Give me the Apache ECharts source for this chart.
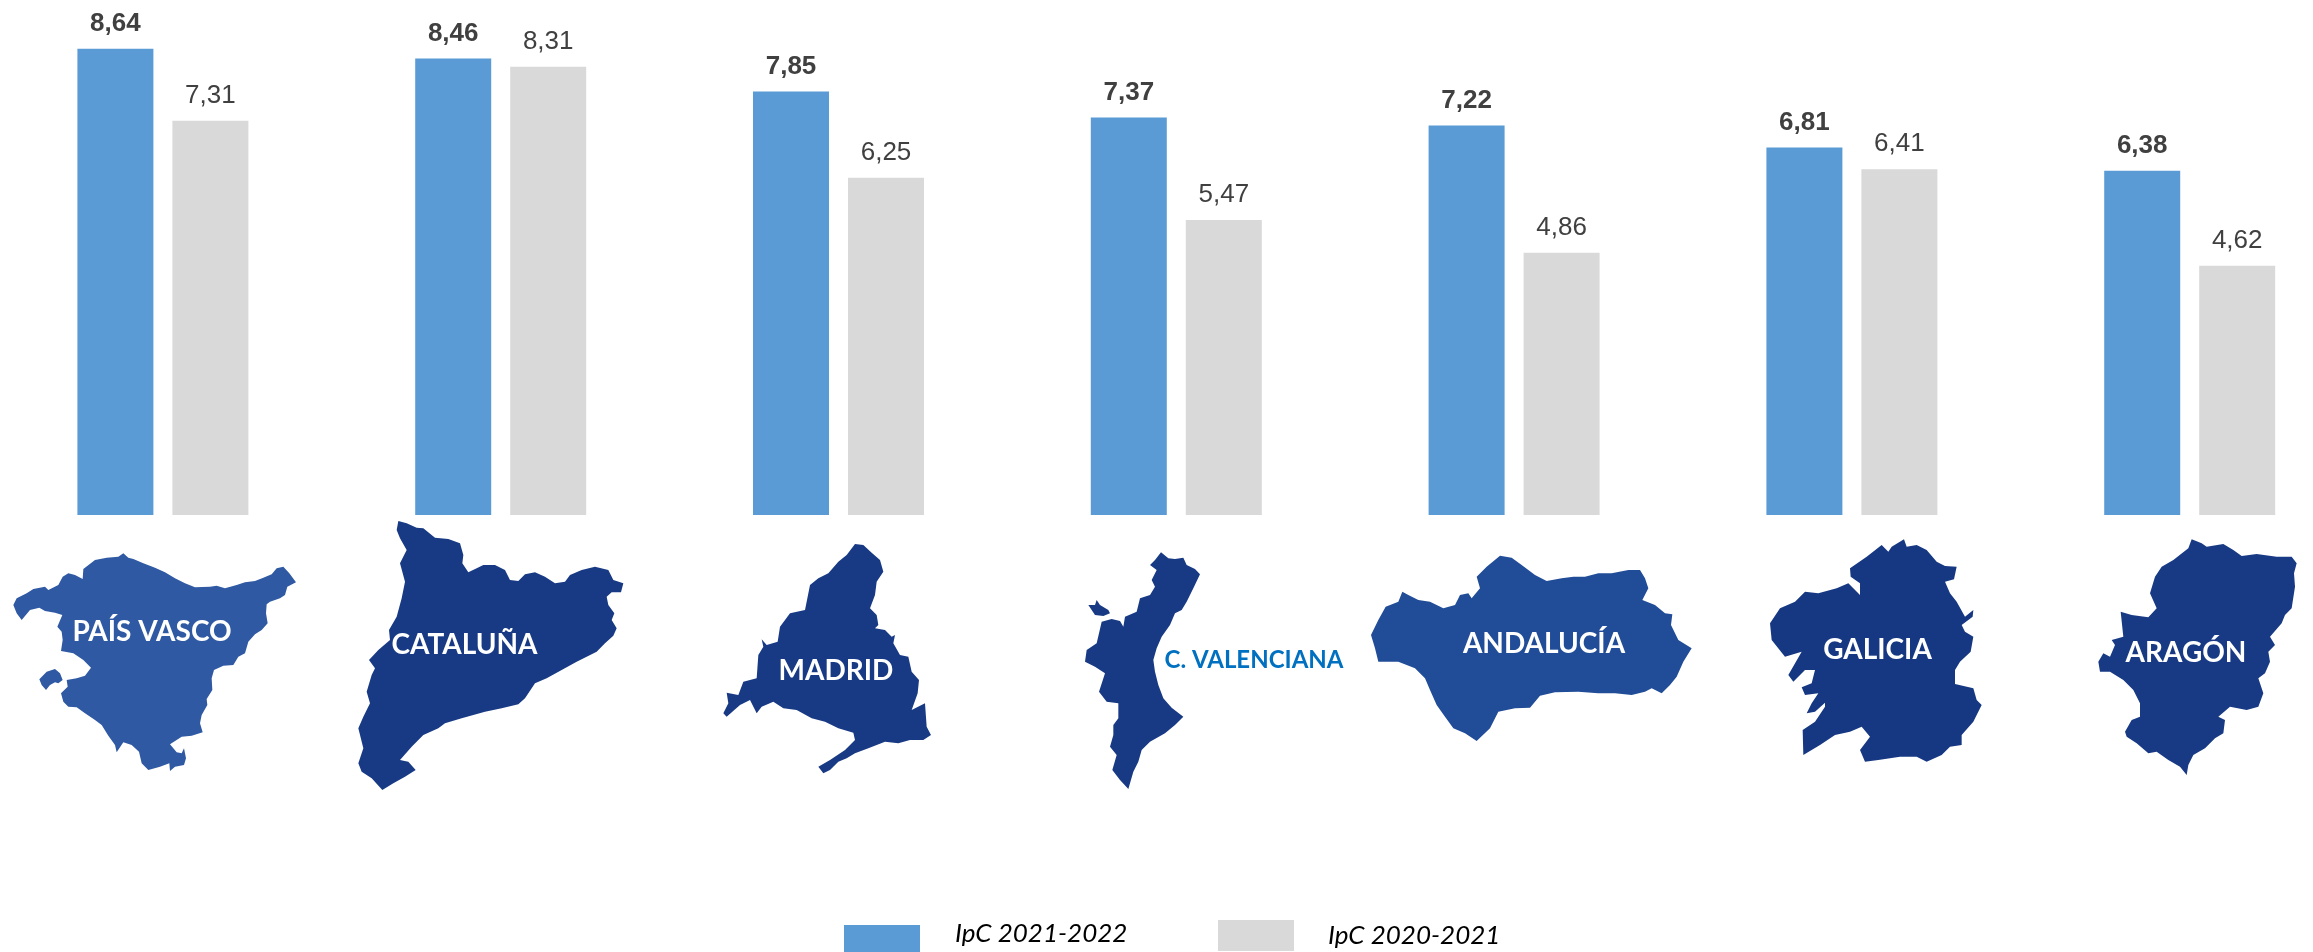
<!DOCTYPE html>
<html>
<head>
<meta charset="utf-8">
<style>html,body{margin:0;padding:0;background:#fff;overflow:hidden}#c{width:2313px;height:952px}</style>
<script src="https://cdn.jsdelivr.net/npm/echarts@6/dist/echarts.min.js"></script>
</head>
<body>
<div id="c"></div>
<script>
var categories = ['PAÍS VASCO','CATALUÑA','MADRID','C. VALENCIANA','ANDALUCÍA','GALICIA','ARAGÓN'];
var ipc2122 = [8.64,8.46,7.85,7.37,7.22,6.81,6.38];
var ipc2021 = [7.31,8.31,6.25,5.47,4.86,6.41,4.62];
var seriesNames = ['IpC 2021-2022','IpC 2020-2021'];

// Decorative region silhouettes (crop px at 3x)
var paisVasco = [[370,25],[385,38],[400,42],[430,55],[465,68],[495,82],[525,100],[555,115],[585,127],[630,125],[650,122],[675,130],[710,120],[735,112],[765,108],[790,98],[815,88],[830,70],[850,65],[868,85],[888,112],[862,125],[855,150],[840,160],[810,170],[800,178],[798,205],[803,235],[785,255],[765,268],[745,290],[735,325],[715,335],[700,360],[670,362],[642,375],[635,400],[637,435],[620,462],[622,480],[605,510],[600,535],[608,562],[575,572],[545,575],[510,598],[530,622],[545,625],[552,610],[558,640],[552,660],[525,665],[510,678],[508,655],[480,665],[445,675],[425,655],[417,620],[395,600],[370,592],[350,622],[345,600],[325,572],[305,540],[285,525],[255,505],[230,487],[205,485],[190,470],[183,445],[203,425],[200,405],[230,400],[255,392],[273,368],[250,345],[220,325],[183,318],[188,285],[185,260],[172,245],[187,210],[165,203],[135,198],[118,188],[90,195],[65,225],[50,205],[40,180],[50,160],[80,145],[100,132],[135,125],[145,135],[175,120],[188,95],[205,85],[225,90],[248,102],[250,72],[285,45],[320,38],[355,35]];
var paisVascoIsle = [[118,403],[140,380],[165,372],[180,385],[188,405],[175,415],[165,412],[150,420],[138,435],[125,420]];
var cataluna = [[160,18],[185,25],[215,38],[235,40],[270,68],[310,72],[345,85],[355,120],[352,145],[370,172],[395,160],[415,150],[450,150],[480,165],[495,195],[520,198],[540,178],[570,172],[600,185],[630,205],[660,200],[675,180],[710,165],[750,155],[790,165],[805,195],[835,205],[828,232],[800,232],[785,245],[790,270],[808,295],[800,315],[815,340],[805,362],[780,385],[755,410],[695,440],[650,465],[605,490],[570,505],[540,550],[520,568],[470,580],[420,590],[350,610],[300,625],[280,640],[235,660],[200,695],[165,735],[190,740],[212,765],[180,785],[145,805],[112,825],[80,790],[50,770],[40,745],[55,700],[40,640],[55,605],[75,565],[65,530],[80,480],[90,460],[72,435],[100,405],[135,375],[132,345],[155,305],[170,250],[180,200],[165,145],[185,105],[165,70],[155,45]];
var madrid = [[420,12],[445,15],[470,38],[495,60],[505,95],[485,125],[480,165],[465,205],[485,225],[490,255],[480,265],[510,270],[530,290],[540,285],[535,310],[555,345],[580,350],[590,395],[612,420],[608,460],[590,510],[630,490],[635,560],[648,585],[625,600],[585,600],[550,610],[510,605],[460,625],[420,640],[395,655],[370,665],[345,690],[325,700],[310,680],[345,660],[390,630],[420,600],[415,578],[370,565],[330,545],[290,535],[245,510],[205,505],[175,485],[140,500],[125,520],[105,480],[75,495],[35,530],[25,520],[40,490],[35,458],[70,465],[85,425],[125,415],[130,345],[145,320],[140,298],[155,315],[188,305],[195,260],[225,220],[270,210],[285,135],[310,115],[340,100],[370,65],[395,45]];
var valencia = [[258,22],[280,40],[300,42],[325,38],[335,60],[360,72],[375,88],[355,130],[335,170],[320,195],[300,205],[285,240],[260,275],[245,310],[235,345],[240,380],[250,420],[265,460],[290,488],[325,515],[300,540],[270,565],[225,590],[200,615],[190,650],[175,680],[160,732],[135,705],[112,675],[125,630],[105,605],[115,570],[115,540],[130,520],[130,475],[95,470],[72,440],[90,385],[60,365],[30,350],[35,315],[65,295],[80,230],[110,222],[135,228],[145,245],[150,215],[185,200],[195,160],[225,150],[240,125],[230,105],[245,75],[225,60],[240,45]];
var valenciaIsle = [[65,165],[75,180],[100,195],[105,205],[85,213],[60,210],[40,180],[60,180]];
var andalucia = [[405,32],[440,38],[470,60],[510,90],[545,108],[590,100],[625,95],[660,95],[700,85],[740,85],[790,75],[825,75],[840,100],[850,130],[832,165],[870,180],[900,205],[922,208],[918,240],[940,285],[980,310],[955,350],[935,395],[915,420],[890,445],[860,430],[840,440],[800,450],[750,445],[700,445],[640,440],[570,442],[525,452],[495,488],[450,490],[400,500],[375,550],[335,588],[300,565],[265,550],[240,515],[215,480],[195,435],[180,400],[150,370],[100,350],[40,350],[30,310],[18,270],[40,225],[62,185],[100,170],[112,140],[130,150],[160,165],[195,170],[235,190],[270,180],[285,150],[310,145],[320,160],[345,130],[335,95],[365,65]];
var galicia = [[432,28],[440,50],[470,45],[500,60],[530,95],[555,108],[590,110],[582,148],[555,155],[570,190],[590,215],[615,260],[640,240],[638,260],[605,285],[615,305],[640,320],[632,365],[600,395],[585,420],[585,462],[640,475],[650,510],[665,525],[640,575],[605,615],[605,645],[570,650],[545,675],[500,695],[470,680],[420,680],[355,690],[315,695],[300,660],[330,620],[305,590],[270,605],[225,615],[180,645],[130,675],[128,600],[165,575],[195,530],[195,518],[165,545],[140,550],[155,520],[175,490],[135,495],[125,472],[155,460],[165,420],[135,420],[100,455],[85,435],[125,365],[75,380],[35,330],[30,280],[60,235],[105,215],[135,185],[175,190],[230,175],[265,160],[300,195],[300,160],[272,140],[270,115],[320,80],[365,45],[385,65],[395,50]];
var aragon = [[305,28],[335,40],[350,50],[400,42],[430,60],[455,78],[500,72],[560,80],[605,80],[620,100],[612,130],[615,170],[605,235],[585,255],[575,280],[540,320],[555,345],[535,365],[540,395],[525,430],[505,445],[520,490],[505,530],[470,540],[420,530],[385,560],[405,570],[400,610],[375,625],[345,655],[310,675],[295,705],[290,735],[270,710],[235,690],[200,665],[175,670],[140,640],[110,620],[105,605],[125,570],[150,560],[150,520],[130,480],[100,450],[60,425],[30,425],[25,395],[40,370],[60,380],[75,345],[65,330],[100,320],[92,245],[125,255],[175,262],[200,235],[180,190],[195,140],[215,110],[250,90],[295,55]];

function place(pts, x0, y0) {
  return pts.map(function (p) { return [x0 + p[0] / 3, y0 + p[1] / 3]; });
}
var shapes = [
  {pts: place(paisVasco, 0, 545), fill: '#2f59a3'},
  {pts: place(paisVascoIsle, 0, 545), fill: '#2f59a3'},
  {pts: place(cataluna, 345, 515), fill: '#183a84'},
  {pts: place(madrid, 715, 540), fill: '#183a84'},
  {pts: place(valencia, 1075, 545), fill: '#183a84'},
  {pts: place(valenciaIsle, 1075, 545), fill: '#183a84'},
  {pts: place(andalucia, 1365, 545), fill: '#214c97'},
  {pts: place(galicia, 1760, 530), fill: '#163882'},
  {pts: place(aragon, 2090, 530), fill: '#183a84'}
];
var labelPlaces = [
  {x: 152, y: 632, c: '#fff', size: 28},
  {x: 464.5, y: 645, c: '#fff', size: 28},
  {x: 836, y: 671, c: '#fff', size: 28},
  {x: 1254, y: 660, c: '#0070c0', size: 24},
  {x: 1544, y: 644, c: '#fff', size: 28},
  {x: 1877.5, y: 650, c: '#fff', size: 28},
  {x: 2186, y: 653, c: '#fff', size: 28}
];
var graphics = shapes.map(function (s) {
  return {type: 'polygon', silent: true, z: 5, shape: {points: s.pts}, style: {fill: s.fill}};
});
categories.forEach(function (name, i) {
  var l = labelPlaces[i];
  graphics.push({
    type: 'text', silent: true, z: 6, x: l.x, y: l.y,
    style: {text: name, fill: l.c, align: 'center', verticalAlign: 'middle',
      font: 'bold ' + l.size + 'px Lato, "Open Sans", sans-serif'}
  });
});

function fmt(p) { return p.value.toFixed(2).replace('.', ','); }
var legendBase = {itemWidth: 76, selectedMode: false, orient: 'horizontal', padding: 0, icon: 'rect'};
var legendFont = {fontFamily: 'Lato', fontStyle: 'italic', fontSize: 26, color: '#000'};
var chart = echarts.init(document.getElementById('c'), null, {renderer: 'canvas'});
chart.setOption({
  animation: false,
  backgroundColor: '#fff',
  graphic: graphics,
  grid: {left: 162.9, width: 2026.8, top: 29.45, height: 485.55},
  xAxis: {type: 'category', data: categories, show: false, boundaryGap: false},
  yAxis: {type: 'value', min: 0, max: 9, show: false},
  legend: [
    Object.assign({}, legendBase, {left: 844, top: 920.5, itemHeight: 27, data: [seriesNames[0]],
      formatter: '{a|{name}}',
      textStyle: Object.assign({}, legendFont, {padding: [0, 0, 0, 30],
        rich: {a: Object.assign({}, legendFont, {padding: [0, 0, 10, 0]})}})}),
    Object.assign({}, legendBase, {left: 1218, top: 920, itemHeight: 31, data: [seriesNames[1]],
      textStyle: Object.assign({}, legendFont, {padding: [0, 0, 0, 29]})})
  ],
  series: [
    {name: seriesNames[0], type: 'bar', data: ipc2122, barWidth: 76, barGap: '25%', clip: false,
      itemStyle: {color: '#5b9bd5'},
      label: {show: true, position: 'top', distance: 12, formatter: fmt, color: '#404040',
        fontFamily: '"Liberation Sans", Arial, sans-serif', fontWeight: 'bold', fontSize: 26}},
    {name: seriesNames[1], type: 'bar', data: ipc2021, barWidth: 76, clip: false,
      itemStyle: {color: '#d9d9d9'},
      label: {show: true, position: 'top', distance: 12, formatter: fmt, color: '#404040',
        fontFamily: '"Liberation Sans", Arial, sans-serif', fontSize: 26}}
  ]
});
</script>
</body>
</html>
